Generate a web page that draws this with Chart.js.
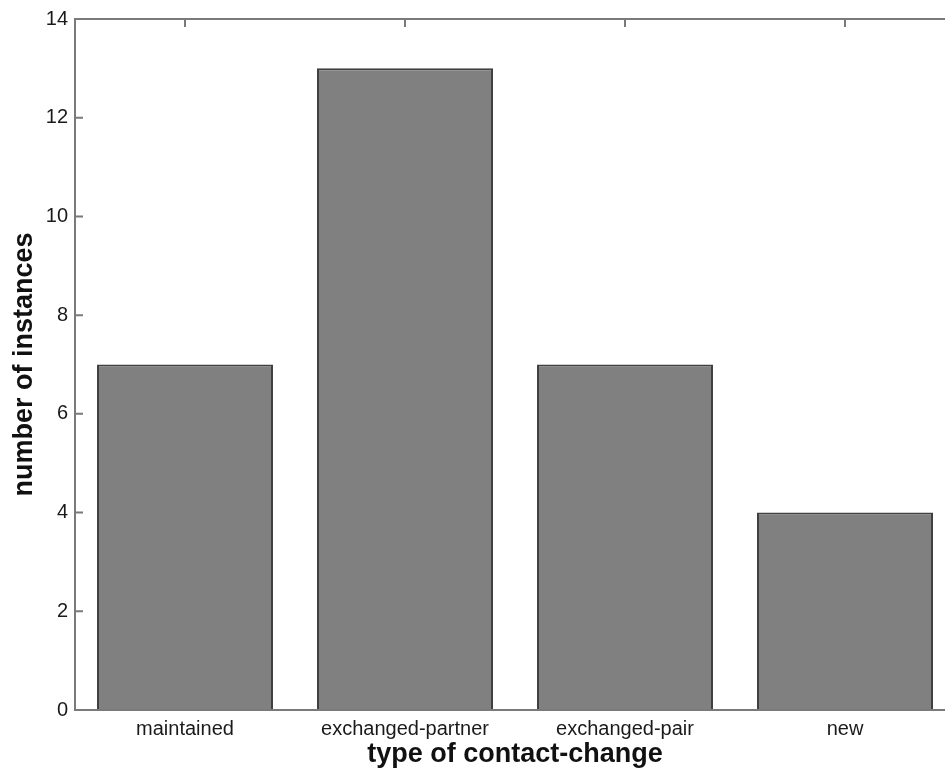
<!DOCTYPE html>
<html>
<head>
<meta charset="utf-8">
<script src="https://cdn.jsdelivr.net/npm/chart.js@4/dist/chart.umd.min.js"></script>
<style>
  html, body { margin: 0; padding: 0; background: #fff; overflow: hidden; }
  #wrap { width: 960px; height: 771px; }
</style>
</head>
<body>
<div id="wrap"><canvas id="c" width="960" height="771"></canvas></div>
<script>
/* bar chart, MATLAB look: box axes, inward ticks */
var categories = ['maintained', 'exchanged-partner', 'exchanged-pair', 'new'];
var counts = [7, 13, 7, 4];
var yTicks = [0, 2, 4, 6, 8, 10, 12, 14];

var AXIS = '#7a7a7a';

// inward tick marks (drawn under the bars), box drawn on top
var boxTicks = {
  id: 'boxTicks',
  beforeDatasetsDraw: function (chart) {
    var ctx = chart.ctx, a = chart.chartArea;
    var x = chart.scales.x, y = chart.scales.y;
    var len = 8;
    ctx.save();
    ctx.strokeStyle = AXIS;
    ctx.lineWidth = 2;
    ctx.beginPath();
    yTicks.forEach(function (v) {
      var py = y.getPixelForValue(v);
      ctx.moveTo(a.left, py); ctx.lineTo(a.left + len, py);
      ctx.moveTo(a.right, py); ctx.lineTo(a.right - len, py);
    });
    categories.forEach(function (_, i) {
      var px = x.getPixelForValue(i);
      ctx.moveTo(px, a.top); ctx.lineTo(px, a.top + len);
      ctx.moveTo(px, a.bottom); ctx.lineTo(px, a.bottom - len);
    });
    ctx.stroke();
    ctx.restore();
  },
  afterDatasetsDraw: function (chart) {
    var ctx = chart.ctx, a = chart.chartArea;
    ctx.save();
    ctx.strokeStyle = AXIS;
    ctx.lineWidth = 2;
    ctx.strokeRect(a.left, a.top, a.right - a.left, a.bottom - a.top);
    ctx.restore();
  }
};

new Chart(document.getElementById('c'), {
  type: 'bar',
  data: {
    labels: categories,
    datasets: [{
      data: counts,
      backgroundColor: '#808080',
      borderColor: '#404040',
      borderWidth: 2,
      barPercentage: 0.8,
      categoryPercentage: 1.0
    }]
  },
  options: {
    responsive: false,
    animation: false,
    devicePixelRatio: 1,
    layout: { padding: { top: 18, right: 5, left: 0, bottom: 0 } },
    plugins: { legend: { display: false }, tooltip: { enabled: false } },
    scales: {
      x: {
        offset: true,
        grid: { display: false, drawTicks: false },
        border: { display: false },
        ticks: { color: '#1a1a1a', font: { family: 'Liberation Sans', size: 20 }, padding: 7, maxRotation: 0 },
        title: {
          display: true, text: 'type of contact-change', color: '#111',
          font: { family: 'Liberation Sans', size: 27, weight: 'bold' }, padding: 0
        },
        afterFit: function (s) { s.height = 61; }
      },
      y: {
        min: 0, max: 14,
        afterBuildTicks: function (s) { s.ticks = yTicks.map(function (v) { return { value: v }; }); },
        grid: { display: false, drawTicks: false },
        border: { display: false },
        ticks: { color: '#1a1a1a', font: { family: 'Liberation Sans', size: 20 }, padding: 7 },
        title: {
          display: true, text: 'number of instances', color: '#111',
          font: { family: 'Liberation Sans', size: 27, weight: 'bold' }, padding: { top: 8, bottom: 0 }
        },
        afterFit: function (s) { s.width = 75; }
      }
    }
  },
  plugins: [boxTicks]
});
</script>
</body>
</html>
